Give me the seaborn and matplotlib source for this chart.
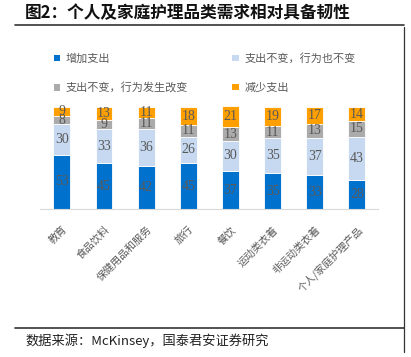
import numpy as np
import pandas as pd
import matplotlib
matplotlib.use("Agg")
import matplotlib.pyplot as plt
import seaborn as sns
from matplotlib.patches import Patch
from matplotlib.lines import Line2D

categories = ["教育", "食品饮料", "保健用品和服务", "旅行", "餐饮",
              "运动类衣着", "非运动类衣着", "个人/家庭护理产品"]
increase = [53, 45, 42, 45, 37, 35, 33, 28]
same_same = [30, 33, 36, 26, 30, 35, 37, 43]
same_change = [8, 9, 11, 11, 13, 11, 13, 15]
decrease = [9, 13, 11, 18, 21, 19, 17, 14]

series_names = ["增加支出", "支出不变，行为也不变", "支出不变，行为发生改变", "减少支出"]
colors = ["#0072CE", "#C6D9F0", "#ABABAB", "#FFA000"]

df = pd.DataFrame({"cat": categories, series_names[0]: increase,
                   series_names[1]: same_same, series_names[2]: same_change,
                   series_names[3]: decrease})

sns.set_style("white")
plt.rcParams['font.family'] = ['Noto Sans CJK SC', 'DejaVu Sans']

fig = plt.figure(figsize=(4.11, 3.57), dpi=100)
ax = fig.add_axes([40 / 411, 1 - 209 / 357, 338 / 411, 103 / 357])

bottom = np.zeros(len(categories))
for name, col in zip(series_names, colors):
    vals = df[name].values
    sns.barplot(x="cat", y=name, data=df, ax=ax, color=col, bottom=bottom,
                width=0.4, edgecolor="white", linewidth=0.6, saturation=1)
    for i, v in enumerate(vals):
        ax.text(i, bottom[i] + v / 2, str(v), ha="center", va="center",
                fontsize=10, color="#595959", family="Liberation Serif")
    bottom = bottom + vals

ax.set_xlim(-0.52, 7.5)
ax.set_ylim(0, 101)
ax.set_xlabel("")
ax.set_ylabel("")
ax.set_yticks([])
for s in ["top", "right", "left"]:
    ax.spines[s].set_visible(False)
ax.spines["bottom"].set_color("#D9D9D9")
ax.tick_params(axis="x", length=0, pad=11)
ax.set_xticks(range(len(categories)))
ax.set_xticklabels(categories, rotation=45, ha="right", rotation_mode="anchor",
                   fontsize=7.5, color="#595959")

# legend fills column-major, reorder so rows read like the reference
order = [0, 2, 1, 3]
handles = [Patch(facecolor=colors[i], edgecolor="none") for i in order]
labels = [series_names[i] for i in order]
leg = fig.legend(handles, labels, loc="upper left", ncol=2,
                 bbox_to_anchor=(44 / 411, 1 - 43 / 357), frameon=False,
                 fontsize=8, handlelength=0.55, handleheight=0.55,
                 handletextpad=0.5, columnspacing=4.0, labelspacing=1.7,
                 labelcolor="#595959")

fig.text(25 / 411, 1 - 13 / 357, "图2：个人及家庭护理品类需求相对具备韧性",
         fontsize=12, fontweight="bold", va="center", ha="left", color="#111111")
fig.add_artist(Line2D([15 / 411, 404 / 411], [1 - 25 / 357, 1 - 25 / 357],
                      color="#333333", lw=1.2))
fig.add_artist(Line2D([404 / 411, 404 / 411], [1 - 27 / 357, 1 - 352 / 357],
                      color="#333333", lw=0.9))
fig.add_artist(Line2D([15 / 411, 404 / 411], [1 - 328 / 357, 1 - 328 / 357],
                      color="#333333", lw=1.2))
fig.text(25 / 411, 1 - 341 / 357, "数据来源：McKinsey，国泰君安证券研究",
         fontsize=9.5, va="center", ha="left", color="#222222")

plt.savefig("out.png", dpi=100)
plt.close()
